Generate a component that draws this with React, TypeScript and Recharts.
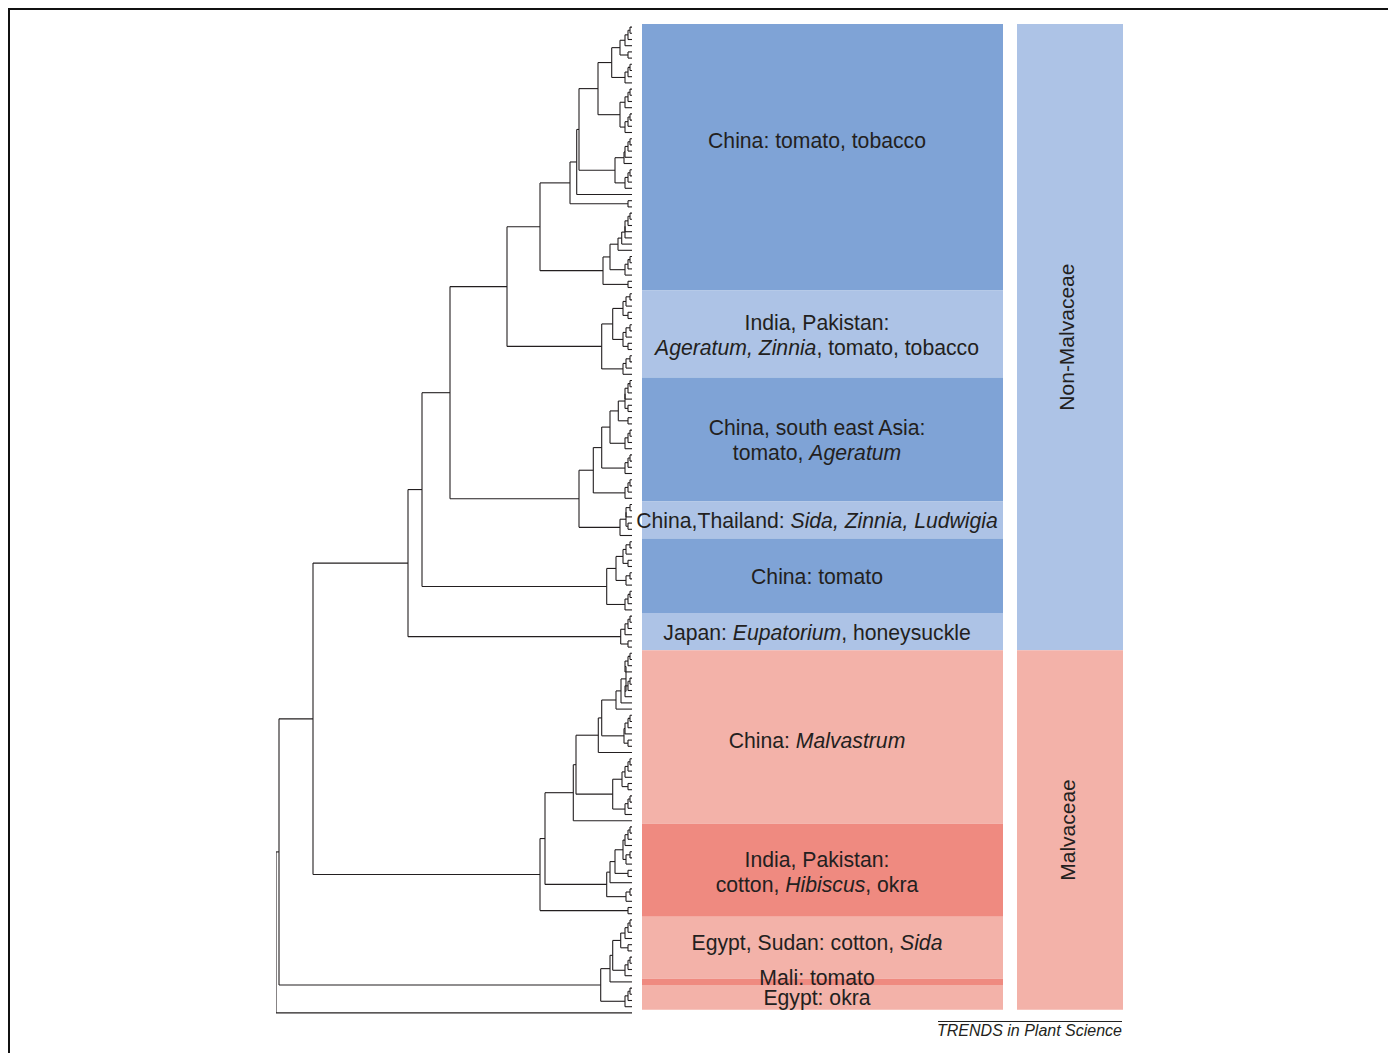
import React from "react";
import { ComposedChart, ReferenceArea, ReferenceLine, Scatter, XAxis, YAxis } from "recharts";

// tiny tip combs used inside the clade strings: q = 4 tips, t = 3 tips, c = cherry
const tipCombs: Record<string, string> = {
  q: "(((L,L)354,L)352,L)349",
  t: "((L,L)354,L)350",
  c: "(L,L)352",
};
const TIP_DEPTH = 356;

// clades as "(a,b)d": node at depth d from the root, L = one tip
const chinaTomatoTobacco =
  "(((((((q,c)344,q)335.7,(q,q)344)322,((q,L)348,q)339)303,L)300.7,c)294,(((((q,L)349,L)345.7,L)342,q)334,c)327)264";
const indiaPakistan = "(((t,c)347,(t,c)347)336.7,(t,L)347)325.7";
const chinaSeAsia = "(((((q,c)349,c)342.3,q)334,q)325.7,q)317.3";
const chinaThailand = "((t,c)350,L)344";
const chinaTomato = "(((t,c)347,t)340,q)330.7";
const japan = "(q,c)344.7";
const malvastrum =
  "(((((((q,q)350,L)345,L)340,(q,c)348)325.7,L)322.3,((q,c)346,q)336.7)300,L)297.3";
const cottonIndia = "((((q,t)347,c)339,L)334,t)330.7";
const cottonOutlier = "c";
const egyptSudan = "((q,c)344.7,q)336.7";
const maliTomato = "L";
const egyptOkra = "q";
const outgroup = "L";

// backbone
const nonMalvCore = `((((${chinaTomatoTobacco},${indiaPakistan})231,(${chinaSeAsia},${chinaThailand})303)174,${chinaTomato})146,${japan})132`;
const malvCore = `((${malvastrum},${cottonIndia})269,${cottonOutlier})264`;
const africa = `((${egyptSudan},${maliTomato})334,${egyptOkra})324.7`;
const treeNewick = `(((${nonMalvCore},${malvCore})37,${africa})3,${outgroup})0`;

const blockLabels = [
  ["China: tomato, tobacco"],
  ["India, Pakistan:", "*Ageratum, Zinnia*, tomato, tobacco"],
  ["China, south east Asia:", "tomato, *Ageratum*"],
  ["China,Thailand: *Sida, Zinnia, Ludwigia*"],
  ["China: tomato"],
  ["Japan: *Eupatorium*, honeysuckle"],
  ["China: *Malvastrum*"],
  ["India, Pakistan:", "cotton, *Hibiscus*, okra"],
  ["Egypt, Sudan: cotton, *Sida*"],
  ["Mali: tomato"],
  ["Egypt: okra"],
];
const blockClades = [
  [chinaTomatoTobacco],
  [indiaPakistan],
  [chinaSeAsia],
  [chinaThailand],
  [chinaTomato],
  [japan],
  [malvastrum],
  [cottonIndia, cottonOutlier],
  [egyptSudan],
  [maliTomato],
  [egyptOkra],
];
const blockTone = ["deep", "pale", "deep", "pale", "deep", "pale", "rose", "salmon", "rose", "salmon", "rose"];
const families = ["Non-Malvaceae", "Malvaceae"];
const familyBlockCount = [6, 5];

const TONES: Record<string, string> = {
  deep: "#7fa3d6",
  pale: "#adc3e6",
  rose: "#f3b2a9",
  salmon: "#ef8a80",
};
const FAMILY_TONES = ["#adc3e6", "#f3b2a9"];
const LABEL_NUDGE = [-17, 0, 0, 0, 0, 0, 3, 1, -6, -5, 0];
const INK = "#231f20";
const FONT = "'Liberation Sans', Arial, Helvetica, sans-serif";

// layout (x units: px from root)
const W = 847;
const H = 992;
const BLOCK_X = [366, 727];
const LABEL_X = 541;
const FAMILY_X = [741, 847];
const FAMILY_LABEL_X = 791;

type Node = { x: number; y: number; kids: Node[] };

const expand = (s: string) => s.replace(/[qtc]/g, (m) => tipCombs[m]);
const countTips = (s: string) => (expand(s).match(/L/g) || []).length;

function parseTree(src: string): Node {
  let i = 0;
  const read = (): Node => {
    if (src[i] === "L") {
      i++;
      return { x: TIP_DEPTH, y: 0, kids: [] };
    }
    i++;
    const kids: Node[] = [read()];
    while (src[i] === ",") {
      i++;
      kids.push(read());
    }
    i++;
    let num = "";
    while (i < src.length && /[0-9.]/.test(src[i])) num += src[i++];
    return { x: parseFloat(num), y: 0, kids };
  };
  return read();
}

const root = parseTree(expand(treeNewick));
let tipCounter = 0;
function place(n: Node) {
  if (!n.kids.length) {
    n.y = tipCounter++;
    return;
  }
  n.kids.forEach(place);
  n.y = (n.kids[0].y + n.kids[n.kids.length - 1].y) / 2;
}
place(root);
const nTips = tipCounter;

const segments: { x1: number; y1: number; x2: number; y2: number }[] = [];
function walk(n: Node) {
  if (!n.kids.length) return;
  segments.push({ x1: n.x, y1: n.kids[0].y, x2: n.x, y2: n.kids[n.kids.length - 1].y });
  n.kids.forEach((k) => {
    segments.push({ x1: n.x, y1: k.y, x2: k.x, y2: k.y });
    walk(k);
  });
}
walk(root);

let start = 0;
const blocks = blockLabels.map((lines, i) => {
  const n = blockClades[i].reduce((a, s) => a + countTips(s), 0);
  const b = { y1: start - 0.5, y2: start + n - 0.5, lines, tone: blockTone[i], nudge: LABEL_NUDGE[i] };
  start += n;
  return b;
});

let bi = 0;
const familyBands = families.map((name, i) => {
  const first = blocks[bi];
  const last = blocks[bi + familyBlockCount[i] - 1];
  bi += familyBlockCount[i];
  return { name, y1: first.y1, y2: last.y2, fill: FAMILY_TONES[i] };
});

const labelPoints = blocks.map((b) => ({
  x: LABEL_X,
  y: (b.y1 + b.y2) / 2,
  lines: b.lines,
  nudge: b.nudge,
}));
const familyPoints = familyBands.map((f) => ({
  x: FAMILY_LABEL_X,
  y: (f.y1 + f.y2) / 2,
  name: f.name,
}));

function renderLine(line: string) {
  return line.split("*").map((part, k) => (
    <tspan key={k} fontStyle={k % 2 ? "italic" : "normal"}>
      {part}
    </tspan>
  ));
}

function BlockLabel(props: any) {
  const { cx, cy, payload } = props;
  const lines: string[] = payload.lines;
  const lh = 25;
  const top = cy + payload.nudge - ((lines.length - 1) * lh) / 2;
  return (
    <g>
      {lines.map((ln, i) => (
        <text
          key={i}
          x={cx}
          y={top + i * lh}
          textAnchor="middle"
          dominantBaseline="central"
          fontSize={21.2}
          fontFamily={FONT}
          fill={INK}
        >
          {renderLine(ln)}
        </text>
      ))}
    </g>
  );
}

function FamilyLabel(props: any) {
  const { cx, cy, payload } = props;
  return (
    <text
      x={cx}
      y={cy}
      transform={`rotate(-90 ${cx} ${cy})`}
      textAnchor="middle"
      dominantBaseline="central"
      fontSize={21}
      fontFamily={FONT}
      fill={INK}
    >
      {payload.name}
    </text>
  );
}

export default function App() {
  return (
    <div style={{ position: "relative", width: 1384, height: 1045 }}>
      <style>{"html,body{overflow:hidden}"}</style>
      <div style={{ position: "absolute", left: 0, top: 0, width: 1384, height: 2, background: "#111" }} />
      <div style={{ position: "absolute", left: 0, top: 0, width: 2, height: 1060, background: "#111" }} />
      <div style={{ position: "absolute", left: 1382, top: 0, width: 2, height: 1060, background: "#111" }} />
      <div style={{ position: "absolute", left: 268, top: 16 }}>
        <ComposedChart width={W} height={H} margin={{ top: 0, right: 0, bottom: 0, left: 0 }}>
          <XAxis type="number" dataKey="x" domain={[0, W]} hide allowDataOverflow />
          <YAxis type="number" dataKey="y" domain={[-0.5, nTips - 0.5]} reversed hide allowDataOverflow />
          {blocks.map((b, i) => (
            <ReferenceArea
              key={`b${i}`}
              x1={BLOCK_X[0]}
              x2={BLOCK_X[1]}
              y1={b.y1}
              y2={b.y2}
              fill={TONES[b.tone]}
              fillOpacity={1}
              stroke="none"
              ifOverflow="visible"
            />
          ))}
          {familyBands.map((f, i) => (
            <ReferenceArea
              key={`f${i}`}
              x1={FAMILY_X[0]}
              x2={FAMILY_X[1]}
              y1={f.y1}
              y2={f.y2}
              fill={f.fill}
              fillOpacity={1}
              stroke="none"
              ifOverflow="visible"
            />
          ))}
          {segments.map((s, i) => (
            <ReferenceLine
              key={`s${i}`}
              segment={[
                { x: s.x1, y: s.y1 },
                { x: s.x2, y: s.y2 },
              ]}
              stroke={INK}
              strokeWidth={1.1}
              ifOverflow="visible"
            />
          ))}
          <Scatter data={labelPoints} isAnimationActive={false} shape={(p: any) => <BlockLabel {...p} />} />
          <Scatter data={familyPoints} isAnimationActive={false} shape={(p: any) => <FamilyLabel {...p} />} />
        </ComposedChart>
      </div>
      <div style={{ position: "absolute", left: 930, top: 1013, width: 184, height: 1, background: "#222" }} />
      <div
        style={{
          position: "absolute",
          left: 880,
          top: 1013,
          width: 234,
          textAlign: "right",
          fontFamily: FONT,
          fontStyle: "italic",
          fontSize: 16,
          lineHeight: "19px",
          color: INK,
        }}
      >
        TRENDS in Plant Science
      </div>
    </div>
  );
}
